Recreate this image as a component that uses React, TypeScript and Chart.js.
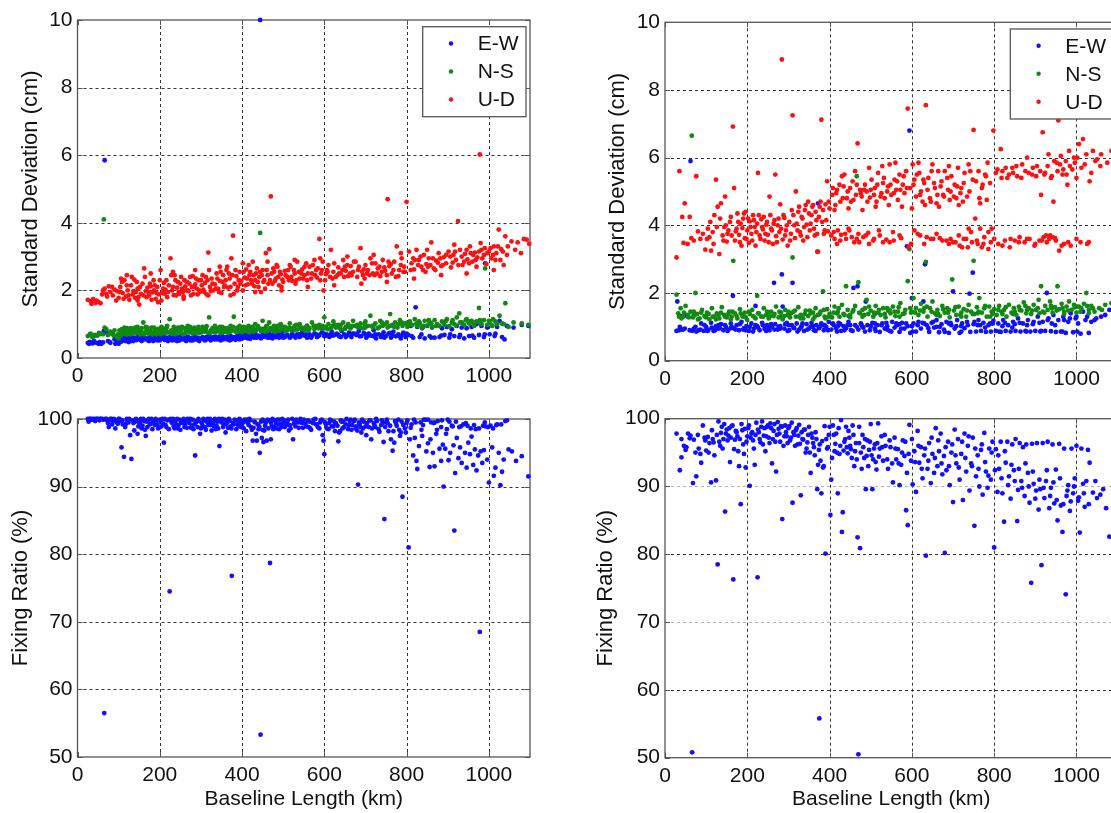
import React, { useEffect, useRef } from 'react';
import { Chart, registerables } from 'chart.js';
Chart.register(...registerables);

const X_TICKS = [0, 200, 400, 600, 800, 1000];
const SD_TICKS = [0, 2, 4, 6, 8, 10];
const FIX_TICKS = [50, 60, 70, 80, 90, 100];
const SERIES_NAMES = ['E-W', 'N-S', 'U-D'];
const SERIES_COLORS = ['#1010ff', '#108a10', '#ff1010'];
const FIX_COLOR = '#1010ff';

// flat lists: km, value, km, value, ...
const SD_LEFT_EW = [25,0.45, 30,0.48, 36,0.43, 42,0.46, 48,0.44, 54,0.47, 58,0.42, 64,0.8, 66,5.85, 70,0.75, 74,0.5, 80,0.45, 86,0.72, 90,0.55, 96,0.48, 100,0.42, 104,0.6, 108,0.52, 112,0.65, 116,0.5, 120,0.58, 124,0.47, 128,0.62, 132,0.55, 136,0.5, 140,0.6, 144,0.53, 148,0.65, 152,0.56, 156,0.5, 160,0.62, 164,0.55, 168,0.58, 172,0.52, 176,0.64, 180,0.57, 184,0.5, 188,0.6, 192,0.55, 196,0.63, 200,0.52, 204,0.58, 208,0.66, 212,0.54, 216,0.6, 220,0.5, 224,0.62, 228,0.56, 232,0.6, 236,0.53, 240,0.65, 244,0.57, 248,0.52, 252,0.61, 256,0.55, 260,0.6, 264,0.5, 268,0.63, 272,0.56, 276,0.59, 280,0.52, 284,0.64, 288,0.55, 292,0.6, 296,0.5, 300,0.58, 304,0.62, 308,0.54, 312,0.6, 316,0.56, 320,0.66, 324,0.52, 328,0.6, 332,0.57, 336,0.63, 340,0.55, 344,0.6, 348,0.52, 352,0.65, 356,0.58, 360,0.62, 364,0.55, 368,0.6, 372,0.66, 376,0.57, 380,0.62, 384,0.54, 388,0.65, 392,0.6, 396,0.68, 400,0.58, 404,0.63, 408,0.7, 412,0.6, 416,0.65, 420,0.57, 424,0.68, 428,0.62, 432,0.72, 436,0.6, 440,0.66, 444,10.0, 446,0.58, 450,0.7, 454,0.63, 458,0.67, 462,0.6, 466,0.72, 470,0.64, 474,0.58, 478,0.68, 482,0.62, 486,0.7, 490,0.6, 494,0.66, 498,0.74, 504,0.62, 510,0.68, 516,0.6, 522,0.72, 528,0.65, 534,0.7, 540,0.62, 546,0.75, 552,0.66, 558,0.6, 564,0.7, 570,0.65, 576,0.73, 582,0.62, 588,0.68, 594,0.76, 600,0.64, 606,0.7, 612,0.62, 618,0.78, 624,0.68, 630,0.72, 636,0.64, 642,0.8, 648,0.7, 654,0.66, 660,0.75, 666,0.62, 672,0.72, 678,0.68, 684,0.8, 690,0.65, 696,0.74, 702,0.6, 708,0.72, 714,0.66, 720,0.82, 726,0.58, 732,0.7, 738,0.62, 744,0.76, 750,0.65, 756,0.72, 762,0.6, 768,0.78, 774,0.64, 780,0.7, 786,0.58, 792,0.75, 798,0.62, 804,0.68, 810,0.95, 816,0.6, 822,1.5, 826,0.92, 832,0.62, 838,0.88, 844,0.58, 850,0.95, 856,0.65, 862,0.9, 868,0.6, 874,0.98, 880,0.62, 886,0.88, 892,0.68, 898,0.92, 904,0.6, 910,0.85, 916,0.65, 922,0.95, 928,0.62, 934,0.9, 940,0.58, 946,0.88, 952,0.65, 958,0.92, 964,0.6, 970,1.0, 976,0.68, 982,0.95, 988,0.62, 991,2.8, 996,0.9, 1002,0.7, 1008,0.96, 1014,0.65, 1020,0.92, 1026,1.1, 1032,0.62, 1038,0.55, 1044,0.95, 1060,0.9, 1080,0.98, 1096,0.95,
  110,0.62, 130,0.5, 150,0.6, 170,0.55, 190,0.62, 210,0.56, 230,0.52, 250,0.64, 270,0.6, 290,0.56, 310,0.52, 330,0.62, 350,0.6, 370,0.52, 390,0.57, 410,0.66, 430,0.6, 452,0.64, 476,0.7, 500,0.6, 520,0.66, 540,0.7, 560,0.62, 580,0.7, 600,0.72, 620,0.66, 640,0.62, 660,0.68, 680,0.72, 700,0.7, 720,0.64, 740,0.68, 760,0.74, 780,0.66, 800,0.72,
  28,0.42, 40,0.5, 52,0.42, 62,0.46, 78,0.48, 92,0.42, 102,0.55, 106,0.48, 114,0.55, 122,0.52, 134,0.6, 142,0.56, 154,0.53, 162,0.58, 174,0.5, 186,0.57, 194,0.52, 202,0.6, 214,0.58, 222,0.55, 234,0.6, 242,0.5, 254,0.58, 262,0.55, 274,0.52, 286,0.6, 294,0.54, 306,0.57, 314,0.62, 326,0.58, 334,0.55, 346,0.64, 354,0.55, 366,0.62, 374,0.55, 386,0.6, 394,0.55, 406,0.6, 414,0.58, 426,0.65, 434,0.62, 448,0.62, 456,0.68, 468,0.6, 480,0.64, 492,0.7, 506,0.65, 518,0.62, 530,0.6, 544,0.66, 556,0.7, 568,0.6, 586,0.65, 604,0.66, 616,0.7, 634,0.68, 652,0.62, 668,0.72, 686,0.64, 706,0.66, 724,0.7, 746,0.6, 766,0.66, 790,0.68, 812,0.65, 836,0.7, 860,0.6, 884,0.66, 906,0.7, 930,0.68, 960,0.66, 990,0.7, 1016,0.72];

const SD_LEFT_NS = [25,0.65, 30,0.7, 36,0.62, 42,0.68, 48,0.66, 54,0.7, 58,0.72, 64,4.1, 66,0.9, 70,0.85, 74,0.68, 80,0.78, 86,0.7, 90,0.82, 96,0.62, 100,0.58, 104,0.75, 108,0.85, 112,0.72, 116,0.8, 120,0.88, 124,0.75, 128,0.7, 132,0.82, 136,0.78, 140,0.9, 144,0.74, 148,0.82, 152,0.7, 156,0.88, 160,1.05, 164,0.76, 168,0.84, 172,0.72, 176,0.8, 180,0.9, 184,0.75, 188,0.82, 192,0.7, 196,0.86, 200,0.78, 204,0.92, 208,0.74, 212,0.8, 216,0.88, 220,0.76, 224,1.15, 228,0.82, 232,0.72, 236,0.85, 240,0.78, 244,0.9, 248,0.75, 252,0.83, 256,0.7, 260,0.88, 264,0.8, 268,0.95, 272,0.76, 276,0.84, 280,0.72, 284,0.9, 288,0.8, 292,0.86, 296,0.74, 300,0.82, 304,0.92, 308,0.78, 312,0.85, 316,0.75, 320,1.2, 324,0.82, 328,0.88, 332,0.76, 336,0.9, 340,0.8, 344,0.85, 348,0.74, 352,0.92, 356,0.82, 360,0.78, 364,0.88, 368,0.8, 372,0.95, 376,0.84, 380,1.22, 384,0.78, 388,0.9, 392,0.82, 396,0.86, 400,0.76, 404,0.92, 408,0.84, 412,0.8, 416,0.95, 420,0.82, 424,0.88, 428,0.78, 432,1.0, 436,0.85, 440,0.9, 444,3.7, 446,0.8, 450,1.1, 454,0.86, 458,0.92, 462,0.8, 466,1.05, 470,0.88, 474,0.82, 478,0.95, 482,0.86, 486,0.9, 490,0.8, 494,1.0, 498,0.85, 504,0.92, 510,0.82, 516,1.02, 522,0.88, 528,0.95, 534,0.84, 540,1.0, 546,0.9, 552,0.82, 558,0.96, 564,0.88, 570,1.05, 576,0.85, 582,0.92, 588,0.98, 594,0.86, 600,1.2, 604,0.92, 610,1.0, 616,0.88, 622,1.08, 628,0.9, 634,0.98, 640,0.85, 646,1.05, 652,0.92, 658,1.0, 664,0.88, 670,1.1, 676,0.95, 682,0.9, 688,1.02, 694,0.88, 700,1.08, 706,0.95, 712,1.25, 718,0.9, 724,1.02, 730,0.88, 736,1.1, 742,0.95, 748,1.0, 754,0.9, 760,1.3, 766,0.98, 772,1.05, 778,0.9, 784,1.12, 790,0.95, 796,1.02, 802,0.92, 808,1.08, 814,0.98, 820,1.15, 826,0.94, 832,1.02, 838,0.9, 844,1.1, 850,0.96, 856,1.05, 862,0.92, 868,1.12, 874,1.0, 880,0.95, 886,1.08, 892,0.98, 898,1.15, 904,0.94, 910,1.05, 916,1.0, 922,1.2, 928,1.32, 934,1.05, 940,0.98, 946,1.15, 952,1.02, 958,1.1, 964,0.95, 970,1.08, 976,1.48, 982,1.0, 988,1.12, 991,2.65, 996,0.98, 1002,1.05, 1008,0.95, 1014,1.1, 1020,1.0, 1026,1.25, 1032,1.02, 1040,1.62, 1048,0.92, 1060,1.05, 1080,1.02, 1096,0.98,
  110,0.78, 130,0.88, 150,0.76, 170,0.9, 190,0.78, 210,0.86, 230,0.78, 250,0.9, 270,0.82, 290,0.76, 310,0.88, 330,0.84, 350,0.8, 370,0.86, 390,0.78, 410,0.9, 430,0.84, 452,0.8, 476,0.9, 500,0.92, 520,0.82, 540,0.9, 560,0.86, 580,0.95, 600,0.88, 620,0.95, 640,0.98, 660,0.92, 680,0.98, 700,0.9, 720,0.96, 740,1.05, 760,0.95, 780,1.0, 800,1.04, 830,1.08, 860,1.02, 890,1.05, 920,0.96, 950,1.08, 980,1.05, 1010,1.15,
  32,0.72, 40,0.64, 52,0.74, 62,0.7, 78,0.72, 88,0.66, 98,0.7, 102,0.82, 106,0.68, 114,0.9, 118,0.7, 126,0.85, 134,0.72, 138,0.86, 146,0.92, 154,0.8, 162,0.7, 166,0.92, 174,0.78, 182,0.7, 186,0.9, 194,0.82, 202,0.7, 206,0.86, 214,0.74, 218,0.95, 226,0.74, 234,0.92, 238,0.7, 246,0.82, 254,0.92, 262,0.74, 266,0.86, 274,0.92, 282,0.8, 286,0.74, 294,0.92, 302,0.76, 306,0.86, 314,0.94, 322,0.74, 326,0.8, 334,0.95, 338,0.78, 346,0.92, 354,0.76, 358,0.88, 366,0.74, 374,0.8, 378,0.92, 386,0.8, 394,0.95, 398,0.88, 406,0.8, 414,0.86, 418,0.76, 426,0.92, 434,0.82, 438,0.95, 448,0.86, 456,0.78, 460,0.95, 468,0.84, 480,0.78, 488,0.96, 496,0.9, 506,0.8, 514,0.9, 526,0.82, 532,0.98, 544,0.85, 556,0.92, 562,0.82, 574,0.95, 586,0.88, 596,0.95, 608,0.85, 626,0.98, 636,0.9, 650,0.86, 668,0.95, 686,0.92, 698,1.0, 716,0.95, 734,0.92, 752,1.05, 770,0.92, 788,1.05, 806,0.98, 824,1.02, 840,0.95, 854,1.12, 872,0.95, 896,1.1, 912,1.12, 930,1.05, 944,1.12, 962,1.05, 978,1.12, 1000,1.1, 1018,1.05, 1036,1.0];

const SD_LEFT_UD = [25,1.72, 32,1.68, 38,1.74, 44,1.63, 50,1.66, 56,1.62, 60,1.88, 66,2.05, 70,1.9, 76,2.12, 80,1.95, 86,1.85, 90,2.02, 96,1.98, 100,1.78, 104,2.1, 110,1.92, 114,2.3, 118,1.82, 122,2.0, 126,1.72, 130,2.15, 134,1.88, 138,2.32, 142,1.95, 146,2.05, 150,1.58, 154,1.9, 158,2.2, 162,2.65, 166,1.98, 170,2.08, 174,1.85, 178,2.12, 182,1.94, 186,2.0, 190,1.75, 194,2.1, 198,1.88, 202,2.6, 206,1.92, 210,2.22, 214,2.02, 218,1.8, 222,2.15, 226,2.95, 230,2.0, 234,1.86, 238,2.3, 242,2.08, 246,1.95, 250,2.2, 254,2.05, 258,1.82, 262,2.12, 266,2.25, 270,1.98, 274,2.4, 278,2.1, 282,1.9, 286,2.18, 290,2.05, 294,2.3, 298,1.96, 302,2.15, 306,2.02, 310,2.22, 314,1.88, 318,3.12, 322,2.1, 326,2.35, 330,2.0, 334,2.18, 338,2.5, 342,2.05, 346,2.28, 350,1.92, 354,2.45, 358,2.15, 362,2.6, 366,2.08, 370,2.35, 374,2.95, 378,3.62, 382,2.2, 386,2.42, 390,2.1, 394,2.55, 398,2.28, 402,2.0, 406,2.38, 410,2.62, 414,2.18, 418,2.45, 422,2.3, 426,2.85, 430,2.12, 434,2.5, 438,2.25, 442,2.4, 446,1.95, 450,2.6, 454,2.3, 458,3.1, 462,2.45, 466,3.22, 470,4.78, 474,2.2, 478,2.55, 482,2.35, 486,2.7, 490,2.15, 494,2.48, 498,2.32, 504,2.58, 510,2.4, 516,2.75, 522,2.28, 528,2.5, 534,2.85, 540,2.35, 546,2.62, 552,2.45, 558,2.3, 564,2.7, 570,2.5, 576,2.9, 582,2.38, 588,3.52, 594,2.6, 598,2.0, 604,2.48, 610,2.75, 616,3.2, 622,2.55, 628,2.4, 634,2.68, 640,2.5, 646,2.9, 652,2.58, 658,2.42, 664,2.72, 670,2.55, 676,2.85, 682,2.6, 688,3.25, 694,2.45, 700,2.75, 706,2.6, 712,2.95, 718,2.5, 724,2.8, 730,2.65, 736,2.42, 742,2.9, 748,2.58, 754,4.7, 758,2.72, 764,2.5, 770,2.85, 776,3.3, 782,2.6, 788,2.95, 794,2.7, 800,4.62, 806,3.15, 812,2.8, 818,2.62, 824,3.2, 830,2.9, 836,2.7, 842,3.05, 848,2.78, 854,2.95, 860,3.42, 866,2.65, 872,2.88, 878,3.1, 884,2.72, 890,2.98, 896,2.8, 902,3.15, 908,2.68, 914,3.05, 920,2.9, 925,4.05, 930,3.2, 936,2.75, 942,3.08, 948,2.92, 954,3.3, 960,2.85, 966,3.12, 972,2.98, 978,6.02, 982,3.2, 988,3.05, 994,2.78, 1000,3.15, 1006,2.95, 1012,3.3, 1018,3.1, 1024,3.8, 1030,3.22, 1036,2.75, 1040,3.6, 1046,3.3, 1055,3.45, 1070,3.42, 1085,3.52, 1098,3.38,
  108,2.25, 140,1.78, 168,1.8, 185,2.3, 196,1.65, 212,1.9, 236,2.45, 248,1.9, 268,2.0, 288,2.35, 296,2.0, 312,2.4, 336,2.05, 352,2.25, 368,2.5, 388,2.0, 396,2.2, 408,2.15, 420,2.55, 432,2.3, 448,2.45, 456,2.05, 468,2.3, 476,2.65, 488,2.4, 500,2.25, 512,2.6, 520,2.4, 532,2.3, 544,2.5, 556,2.8, 568,2.35, 580,2.6, 590,2.3, 606,2.6, 620,2.35, 636,2.5, 650,2.7, 662,2.5, 680,2.4, 696,2.62, 710,2.45, 728,2.5, 746,2.68, 762,2.78, 780,2.42, 796,2.55, 820,2.9, 840,2.6, 858,2.75, 876,2.82, 896,3.05, 912,2.82, 934,3.0, 956,3.1, 970,2.7, 990,3.25, 1010,3.05, 1028,2.9,
  34,1.6, 46,1.7, 62,2.0, 72,1.82, 84,2.1, 94,1.7, 102,1.95, 106,2.35, 112,1.75, 120,2.15, 124,1.85, 132,2.4, 136,1.98, 144,2.25, 148,1.8, 152,2.1, 160,1.85, 164,2.4, 172,1.95, 176,2.2, 180,1.72, 188,2.15, 192,1.92, 200,2.3, 208,2.05, 216,2.3, 220,1.95, 228,2.45, 232,2.1, 240,1.85, 244,2.25, 252,2.4, 256,1.95, 260,2.3, 264,2.0, 272,2.2, 276,1.85, 280,2.42, 284,2.1, 292,1.88, 300,2.3, 304,2.45, 308,1.95, 316,2.3, 320,2.6, 324,1.98, 328,2.2, 340,2.35, 344,1.95, 348,2.55, 356,2.1, 360,2.3, 364,2.7, 372,2.1, 376,2.45, 380,1.9, 384,2.6, 392,2.3, 404,2.55, 412,2.35, 416,2.75, 424,2.2, 428,2.45, 436,2.65, 440,2.1, 444,2.55, 452,2.25, 460,2.6, 464,2.2, 472,2.5, 480,2.28, 484,2.75, 492,2.55, 496,2.1, 506,2.45, 514,2.3, 518,2.7, 526,2.6, 530,2.2, 538,2.55, 548,2.35, 552,2.7, 560,2.5, 572,2.75, 578,2.45, 584,2.65, 592,2.5, 596,2.85, 602,2.3, 608,2.55, 614,2.4, 624,2.8, 632,2.45, 644,2.6, 648,2.4, 656,2.75, 666,2.45, 672,2.85, 684,2.7, 692,2.55, 698,2.35, 704,2.5, 716,2.8, 722,2.45, 734,2.7, 740,2.55, 752,2.45, 756,2.85, 768,2.6, 774,2.4, 786,2.75, 792,2.55, 810,2.6, 816,2.95, 828,2.75, 834,3.0, 846,2.55, 852,2.7, 864,2.95, 870,2.6, 882,2.95, 888,2.75, 906,3.0, 918,3.15, 926,2.75, 940,2.85, 946,3.2, 952,2.8, 962,3.05, 968,2.9, 976,3.15, 984,2.95, 996,3.1, 1004,3.25, 1016,2.9, 1022,3.3, 1034,3.15, 1044,3.05, 1064,3.2, 1078,3.1, 1092,3.5,
  120,2.45, 146,1.7, 178,2.5, 204,1.7, 232,2.55, 258,1.75, 286,2.6, 318,1.85, 346,2.7, 372,1.85, 402,2.8, 432,1.95, 462,2.85, 496,2.0, 528,2.9, 560,2.1, 590,2.95, 624,2.15, 656,3.0, 690,2.2, 720,3.05, 752,2.25, 786,3.1, 818,2.35, 850,3.2, 884,2.45, 916,3.35, 946,2.5, 980,3.4, 1012,2.6];

const SD_RIGHT_EW = [28,0.88, 30,1.75, 34,0.9, 38,1.32, 44,0.92, 50,1.35, 56,1.3, 62,5.9, 66,0.88, 70,1.35, 76,0.86, 82,0.9, 88,1.1, 94,0.88, 100,1.0, 106,0.92, 112,1.12, 118,0.88, 124,1.02, 130,0.95, 136,1.08, 142,0.9, 148,1.0, 154,0.92, 160,1.1, 165,1.92, 168,0.95, 174,1.05, 180,0.9, 186,1.15, 192,0.96, 198,1.02, 204,0.88, 210,1.1, 216,0.95, 220,1.62, 224,1.02, 230,0.9, 236,1.12, 242,0.94, 248,1.05, 254,0.9, 260,1.0, 265,2.3, 268,1.08, 274,0.92, 280,1.02, 284,2.55, 286,1.6, 290,0.95, 296,1.12, 302,0.9, 308,1.05, 310,2.3, 314,0.96, 320,1.1, 326,0.92, 332,1.02, 338,0.88, 344,1.08, 350,0.95, 356,1.12, 362,0.9, 368,1.05, 372,4.65, 374,0.96, 380,1.1, 386,0.9, 392,1.0, 398,1.15, 404,0.92, 410,1.05, 416,0.95, 422,1.12, 428,0.88, 434,1.02, 440,0.96, 446,1.15, 452,0.9, 458,2.15, 462,1.05, 468,2.2, 470,0.92, 476,1.1, 482,0.98, 488,1.75, 492,1.05, 498,0.9, 504,1.12, 510,0.95, 516,1.05, 522,0.85, 528,1.1, 534,0.95, 540,1.02, 546,0.88, 552,1.15, 558,0.98, 564,1.05, 570,0.85, 576,1.12, 582,0.95, 588,3.38, 590,1.02, 594,6.8, 596,0.82, 600,1.85, 604,1.1, 610,0.86, 616,1.15, 622,0.95, 628,1.75, 632,2.85, 636,1.05, 642,0.85, 648,1.12, 654,0.98, 660,1.2, 666,0.84, 672,1.08, 678,0.92, 684,1.15, 690,0.82, 696,1.05, 700,2.05, 704,0.95, 710,1.2, 716,0.82, 722,1.1, 728,0.96, 734,1.15, 740,1.98, 742,0.85, 748,2.6, 750,1.08, 756,0.86, 762,1.2, 768,0.88, 774,1.12, 780,0.85, 786,1.05, 792,0.86, 798,1.18, 804,0.88, 810,1.1, 816,0.85, 822,1.2, 828,0.88, 834,1.05, 840,0.86, 846,1.15, 852,0.88, 858,1.25, 864,0.86, 870,1.1, 876,0.88, 882,1.2, 888,0.86, 894,1.08, 900,0.88, 906,1.3, 912,0.86, 918,1.15, 924,0.88, 928,2.0, 932,1.25, 938,0.87, 944,1.35, 950,0.85, 956,1.2, 962,0.86, 968,1.3, 974,0.82, 980,1.15, 986,1.4, 992,0.84, 998,1.25, 1004,1.1, 1010,0.8, 1016,1.45, 1022,1.2, 1030,0.82, 1036,1.15, 1048,1.25, 1060,1.3, 1080,1.5,
  40,0.92, 70,0.95, 100,0.9, 130,1.05, 160,0.96, 190,0.92, 220,1.05, 250,0.98, 280,0.95, 300,1.05, 330,0.98, 360,1.02, 390,0.95, 420,1.02, 450,1.05, 480,1.0, 510,1.1, 540,0.92, 570,1.08, 600,1.02, 630,1.1, 660,1.0, 690,1.1, 720,1.02, 760,1.05, 790,1.1, 820,1.02, 850,1.08, 880,1.05, 910,1.12, 940,1.1, 970,1.2, 1000,1.3,
  36,1.0, 48,0.95, 60,0.9, 74,1.0, 86,0.92, 96,1.05, 104,0.88, 114,0.98, 122,0.9, 134,0.96, 146,1.05, 152,0.88, 162,1.0, 172,0.92, 182,1.08, 196,0.9, 206,1.0, 214,0.86, 226,0.98, 238,1.05, 246,0.88, 258,1.08, 266,0.92, 276,1.0, 292,1.08, 298,0.88, 312,0.98, 322,0.86, 334,1.1, 346,0.92, 354,1.0, 366,0.88, 378,1.02, 388,1.05, 396,0.9, 408,1.1, 418,0.86, 426,1.08, 436,0.9, 444,1.05, 456,0.88, 466,1.0, 478,1.05, 486,0.86, 500,1.02, 512,0.88, 526,1.05, 538,1.12, 550,0.86, 562,1.1, 574,0.95, 586,1.1, 602,0.86, 614,1.05, 626,1.12, 640,0.96, 652,1.15, 668,1.0, 680,0.85, 694,1.12, 708,1.02, 720,0.86, 736,1.05, 752,1.15, 766,1.05, 778,0.98, 796,1.1, 812,0.86, 826,1.12, 844,0.98, 862,1.12, 878,0.86, 896,1.15, 914,0.88, 930,1.2, 948,1.05, 966,0.86, 984,1.25, 1002,0.86, 1026,1.3, 1044,1.2, 1070,1.35];

const SD_RIGHT_NS = [28,1.95, 32,1.4, 38,1.55, 44,1.3, 50,1.62, 56,1.35, 62,1.45, 65,6.65, 68,1.28, 74,2.0, 78,1.38, 84,1.25, 90,1.5, 96,1.32, 102,1.42, 108,1.22, 114,1.55, 120,1.3, 126,1.4, 132,1.25, 138,1.58, 144,1.35, 150,1.28, 156,1.45, 162,1.3, 166,2.95, 170,1.4, 176,1.25, 182,1.52, 188,1.32, 194,1.42, 200,1.2, 206,1.38, 212,1.5, 218,1.28, 224,1.92, 228,1.4, 234,1.3, 240,1.55, 246,1.35, 252,1.25, 258,1.45, 264,1.32, 270,1.6, 276,1.28, 282,1.42, 286,1.22, 292,1.5, 298,1.35, 304,1.28, 310,3.05, 312,1.45, 318,1.3, 324,1.58, 330,1.35, 336,1.25, 342,1.48, 348,1.32, 354,1.4, 360,1.22, 366,1.55, 370,3.22, 372,1.35, 378,1.45, 384,2.05, 388,1.3, 394,1.52, 400,1.38, 406,1.28, 412,1.6, 418,1.4, 424,1.3, 430,1.65, 436,1.35, 440,2.2, 444,1.5, 450,1.28, 456,1.45, 462,1.62, 466,5.45, 470,2.32, 474,1.4, 480,1.3, 486,1.55, 490,1.8, 494,1.38, 500,1.48, 506,1.3, 512,1.62, 518,1.42, 524,1.35, 530,1.55, 536,1.28, 542,1.48, 548,1.4, 554,1.6, 560,1.32, 566,1.45, 572,1.7, 578,1.38, 584,1.5, 590,2.35, 594,3.3, 598,1.42, 604,1.85, 610,1.55, 616,1.35, 622,1.68, 628,1.45, 634,2.92, 638,1.3, 644,1.55, 650,1.75, 656,1.4, 662,1.5, 668,1.32, 674,1.62, 680,1.42, 686,1.55, 692,1.28, 698,2.4, 702,1.48, 708,1.35, 714,1.6, 720,1.42, 726,1.52, 732,1.3, 738,1.65, 744,1.45, 750,2.95, 752,1.38, 758,1.58, 764,1.85, 770,1.42, 776,1.55, 782,1.3, 788,1.6, 794,1.45, 800,1.52, 806,1.35, 812,1.62, 818,1.45, 824,1.5, 830,1.3, 836,1.65, 842,1.42, 848,1.55, 854,1.35, 860,1.6, 866,1.48, 872,1.72, 878,1.4, 884,1.55, 890,1.38, 896,1.65, 902,1.5, 908,1.8, 914,2.2, 918,1.45, 924,1.62, 930,1.5, 936,1.75, 942,1.42, 948,1.58, 954,2.2, 958,1.52, 964,1.68, 970,1.45, 976,1.6, 982,1.75, 988,1.5, 994,1.65, 1000,1.42, 1006,1.6, 1012,1.55, 1018,1.68, 1024,2.0, 1030,1.5, 1036,1.62, 1044,1.45, 1055,1.55, 1070,1.65, 1085,1.7,
  40,1.25, 70,1.45, 100,1.28, 130,1.35, 160,1.22, 190,1.3, 220,1.25, 250,1.38, 280,1.3, 300,1.45, 330,1.25, 360,1.42, 390,1.25, 420,1.45, 450,1.35, 480,1.5, 510,1.38, 540,1.55, 570,1.3, 600,1.45, 630,1.55, 660,1.35, 690,1.5, 720,1.3, 760,1.4, 790,1.3, 820,1.38, 850,1.45, 880,1.5, 910,1.4, 940,1.55, 970,1.38, 1000,1.6, 1030,1.4,
  34,1.3, 46,1.42, 58,1.28, 72,1.35, 80,1.22, 88,1.42, 98,1.3, 106,1.38, 116,1.3, 124,1.22, 136,1.42, 146,1.3, 154,1.38, 164,1.45, 174,1.32, 184,1.4, 196,1.28, 204,1.45, 214,1.32, 226,1.4, 238,1.3, 248,1.45, 256,1.32, 266,1.38, 278,1.45, 290,1.32, 306,1.4, 316,1.48, 326,1.3, 340,1.38, 352,1.48, 364,1.3, 376,1.38, 386,1.5, 398,1.3, 410,1.42, 422,1.55, 434,1.38, 446,1.32, 458,1.5, 472,1.42, 484,1.35, 496,1.6, 508,1.42, 520,1.5, 534,1.38, 546,1.5, 558,1.45, 568,1.58, 582,1.4, 596,1.55, 608,1.42, 620,1.48, 636,1.6, 648,1.45, 664,1.38, 676,1.52, 688,1.42, 706,1.58, 718,1.35, 734,1.48, 748,1.38, 762,1.45, 778,1.62, 796,1.38, 810,1.5, 828,1.58, 846,1.38, 862,1.5, 876,1.62, 892,1.48, 906,1.55, 922,1.42, 938,1.62, 952,1.48, 966,1.55, 980,1.48, 996,1.58, 1010,1.45, 1026,1.62, 1040,1.55, 1062,1.5];

const SD_RIGHT_UD = [28,3.05, 35,5.6, 42,4.25, 45,3.48, 48,4.65, 55,3.45, 60,4.25, 64,3.62, 70,3.55, 76,5.45, 80,3.82, 86,3.6, 92,3.75, 98,3.28, 104,3.9, 108,3.65, 112,3.25, 116,3.8, 120,4.3, 124,5.35, 128,4.55, 132,3.15, 136,4.65, 140,3.7, 144,3.95, 146,4.85, 150,3.52, 154,3.85, 158,4.1, 162,3.7, 165,6.92, 168,5.1, 170,3.55, 174,3.9, 176,4.35, 180,3.72, 184,4.05, 186,3.4, 190,4.2, 194,3.62, 196,4.4, 200,3.85, 204,3.48, 206,4.12, 210,3.75, 214,4.3, 218,3.95, 220,3.4, 224,4.05, 226,5.55, 230,3.7, 234,4.18, 238,3.88, 242,3.55, 246,4.02, 250,3.72, 254,4.85, 258,3.9, 262,3.45, 266,4.15, 268,5.5, 270,3.68, 274,4.0, 278,3.8, 280,4.62, 284,8.9, 286,3.58, 290,4.22, 294,3.85, 298,3.4, 302,4.1, 306,3.75, 310,7.25, 312,4.3, 316,3.62, 318,5.0, 320,4.05, 324,4.4, 328,3.8, 332,4.25, 336,3.55, 340,4.45, 344,4.02, 348,4.7, 352,3.85, 356,4.3, 360,4.6, 364,3.7, 368,4.15, 372,3.22, 376,4.55, 380,7.12, 382,4.1, 386,3.75, 390,4.62, 394,5.3, 396,3.82, 400,4.5, 404,3.7, 408,5.1, 412,3.6, 416,4.95, 420,3.85, 424,5.2, 428,3.72, 432,4.8, 436,5.5, 440,3.6, 444,5.0, 448,3.85, 452,4.7, 456,5.3, 460,3.5, 464,4.9, 468,6.42, 470,3.75, 474,5.05, 478,4.85, 482,3.65, 486,5.2, 490,5.0, 494,3.78, 498,4.82, 502,5.35, 506,3.55, 510,5.1, 514,4.7, 518,5.55, 522,3.7, 526,4.95, 530,5.25, 534,4.8, 538,3.58, 542,5.15, 546,5.8, 550,4.9, 554,3.8, 558,5.35, 562,5.05, 566,4.75, 570,5.5, 574,3.62, 578,5.2, 582,4.95, 586,5.6, 590,7.45, 592,3.35, 596,5.1, 598,3.45, 602,5.8, 606,5.35, 610,4.85, 614,3.75, 618,5.55, 622,5.0, 626,4.7, 630,5.25, 634,7.55, 636,3.65, 640,5.4, 644,4.8, 648,5.6, 652,3.6, 656,5.1, 660,4.65, 664,5.6, 668,3.62, 672,5.3, 676,4.9, 680,5.6, 684,3.55, 688,5.05, 692,4.75, 696,5.45, 700,3.5, 704,5.2, 708,4.8, 712,5.7, 716,3.4, 720,5.1, 724,4.7, 728,5.55, 732,3.6, 736,3.35, 740,5.0, 744,3.8, 748,5.35, 750,6.82, 754,4.2, 758,3.55, 762,5.6, 766,3.9, 770,5.1, 774,3.45, 778,5.5, 782,4.75, 786,3.3, 790,5.25, 794,3.9, 798,6.8, 800,3.6, 804,5.55, 810,3.45, 816,6.25, 820,5.6, 826,3.55, 832,5.4, 838,3.35, 844,5.7, 850,3.55, 856,5.45, 862,3.65, 868,5.8, 874,3.5, 880,6.0, 886,3.6, 892,5.5, 898,3.4, 904,5.75, 910,3.55, 914,4.9, 918,6.75, 920,3.65, 924,5.55, 928,3.5, 932,6.1, 936,3.7, 940,5.45, 944,4.7, 948,3.62, 952,5.85, 956,7.1, 958,3.25, 962,6.05, 966,5.5, 970,3.45, 974,5.9, 978,5.2, 982,6.2, 986,3.4, 990,5.65, 994,6.0, 1000,5.4, 1006,6.4, 1010,3.5, 1016,6.55, 1020,5.8, 1026,3.45, 1032,5.3, 1040,6.2, 1050,5.95, 1060,6.1, 1075,5.85, 1085,6.2,
  102,3.6, 110,4.1, 118,3.45, 126,3.95, 134,4.2, 142,3.55, 148,4.0, 152,3.75, 160,4.25, 172,3.82, 178,4.1, 182,3.5, 188,3.92, 192,4.35, 198,3.6, 202,4.2, 208,3.95, 212,3.55, 216,4.15, 222,3.8, 228,4.3, 232,3.6, 236,3.95, 240,4.25, 244,3.75, 248,4.1, 252,3.5, 256,4.3, 260,3.85, 264,4.05, 272,3.5, 276,4.2, 282,3.9, 288,4.3, 292,3.7, 296,4.0, 304,3.55, 308,4.45, 314,4.0, 322,3.85, 326,4.55, 330,3.7, 334,4.2, 338,3.95, 342,4.6, 346,3.65, 350,4.35, 354,4.05, 358,4.55, 362,3.9, 366,4.4, 370,3.75, 374,4.25, 378,4.7, 384,4.45, 388,3.85, 392,4.15, 398,4.7,
  406,4.9, 414,4.6, 418,5.05, 426,4.7, 434,5.15, 442,4.8, 450,5.1, 458,4.75, 466,5.2, 476,4.95, 484,5.05, 492,4.7, 500,5.05, 508,4.9, 516,5.2, 524,4.85, 532,5.4, 540,5.0, 548,5.2, 556,4.95, 564,5.3, 572,5.05, 580,5.45, 588,5.1, 410,3.8, 426,3.55, 438,3.75, 454,3.65, 472,3.5, 488,3.7, 508,3.6, 530,3.5, 556,3.55,
  604,5.2, 612,5.5, 620,4.9, 628,5.35, 638,5.05, 646,4.7, 654,5.25, 662,4.9, 670,5.15, 678,4.85, 686,5.4, 694,5.0, 702,4.85, 710,5.15, 718,4.95, 726,5.25, 734,4.85, 742,5.6, 756,5.3, 764,4.8, 772,5.2, 780,5.45, 620,3.7, 646,3.6, 674,3.55, 694,3.6, 706,3.5, 722,3.35, 726,3.6, 746,3.5, 760,3.45, 776,3.65, 792,3.5,
  808,5.65, 818,5.4, 828,5.7, 836,5.5, 846,5.55, 854,5.75, 866,5.4, 876,5.6, 884,5.55, 894,5.7, 902,5.45, 912,5.6, 922,5.5, 930,5.75, 938,5.4, 946,5.9, 954,5.6, 960,5.8, 968,5.65, 976,5.5, 984,5.75, 996,5.85, 1002,6.0, 1012,5.7, 1024,6.1, 1036,5.55, 1046,5.9, 1058,5.75, 820,3.4, 840,3.6, 860,3.5, 880,3.6, 900,3.45, 916,3.55, 926,3.7, 934,3.6, 942,3.65, 950,3.55, 964,3.4, 980,3.5, 1000,3.6, 1030,3.5,
  412,4.45, 430,5.45, 446,4.5, 462,5.6, 480,4.45, 496,5.7, 512,4.55, 528,5.75, 544,4.6, 560,5.85, 576,4.55, 600,4.5, 616,5.85, 632,4.6, 650,5.8, 666,4.55, 690,5.75, 714,4.6, 738,5.8, 766,4.65, 784,5.85, 418,3.45, 446,3.9, 466,3.6, 496,3.45, 520,3.85, 546,3.5, 570,3.7, 606,3.85, 630,3.45, 660,3.75, 690,3.45, 714,3.7, 738,3.9, 770,3.35, 786,3.8];

const FIX_LEFT = [25,100, 30,100, 35,100, 40,100, 45,100, 50,100, 55,100, 60,100, 65,56.5, 68,100, 72,99.8, 76,98.8, 80,100, 84,99.2, 88,100, 92,98.6, 96,99.5, 100,100, 104,99.7, 107,95.8, 110,99.2, 113,94.4, 116,98.8, 120,100, 124,99.5, 128,97.6, 131,94.1, 134,99.8, 138,98.3, 142,100, 146,97.8, 150,99.4, 154,100, 158,99, 162,99.7, 166,97.5, 170,98.8, 174,100, 178,99.3, 182,98.5, 186,99.8, 190,100, 194,99.2, 198,98.7, 202,99.6, 206,100, 210,96.5, 214,99.1, 218,99.8, 222,98.5, 224,74.5, 226,100, 230,99.4, 234,98.9, 238,99.7, 242,100, 246,99.1, 250,98.4, 254,99.8, 258,100, 262,99.3, 266,98.7, 270,99.6, 274,100, 278,99.0, 282,98.5, 286,94.6, 290,99.7, 294,100, 298,97.8, 302,99.4, 306,100, 310,98.8, 314,99.6, 318,99.1, 322,100, 326,98.3, 330,99.5, 334,100, 338,99.0, 342,98.6, 345,96.0, 348,99.8, 352,100, 356,99.2, 360,98.0, 364,99.6, 368,100, 372,98.9, 375,76.8, 378,99.4, 382,99.9, 386,98.5, 390,99.2, 394,100, 398,98.8, 402,99.5, 406,99.9, 410,98.2, 414,99.4, 418,100, 422,98.8, 426,96.8, 430,99.6, 434,97.8, 438,99.2, 440,98.5, 443,95.0, 445,53.3, 448,97.2, 452,99.7, 456,99.0, 460,96.8, 464,98.6, 468,78.7, 470,99.5, 474,100, 478,98.8, 482,99.4, 486,99.9, 490,98.5, 494,99.2, 498,100, 504,98.8, 510,99.6, 516,99.1, 522,100, 524,97.0, 530,98.9, 536,99.5, 542,100, 548,98.7, 554,99.3, 560,99.8, 566,98.6, 572,99.4, 578,100, 584,98.8, 590,99.5, 596,97.6, 598,96.8, 600,94.8, 604,99.2, 610,98.5, 616,99.8, 622,98.9, 628,99.4, 634,96.7, 638,98.2, 642,99.6, 648,98.8, 654,100, 660,99.1, 666,98.4, 672,99.7, 678,98.9, 682,90.3, 686,99.3, 690,98.0, 696,99.6, 702,97.6, 708,98.8, 714,97.0, 720,99.4, 726,100, 732,98.5, 738,99.1, 744,96.6, 746,85.2, 750,99.5, 756,98.2, 762,97.0, 766,95.3, 770,96.5, 776,99.0, 782,98.4, 788,99.6, 790,88.5, 796,98.6, 802,99.8, 805,81.0, 808,97.0, 812,99.2, 816,94.6, 820,97.2, 824,93.8, 826,92.6, 830,96.0, 834,99.5, 838,97.5, 842,99.9, 848,95.2, 852,96.4, 856,92.9, 860,99.5, 864,95.0, 868,93.0, 872,97.8, 876,99.7, 880,95.6, 884,93.8, 888,96.2, 890,90.0, 894,95.6, 898,98.5, 902,93.9, 906,95.0, 910,99.0, 914,96.1, 916,83.5, 918,92.0, 922,97.2, 926,94.2, 930,95.8, 934,93.5, 938,99.2, 942,95.0, 946,92.8, 950,96.5, 954,94.8, 958,97.4, 962,93.2, 966,95.5, 970,92.4, 974,94.6, 978,68.5, 980,95.2, 984,93.5, 988,95.4, 992,98.9, 996,94.0, 1000,90.6, 1004,99.0, 1008,95.8, 1012,91.6, 1016,92.8, 1020,99.2, 1024,95.0, 1028,90.2, 1032,92.2, 1036,94.0, 1040,99.7, 1048,95.5, 1056,95.2, 1066,93.8, 1080,94.5, 1096,91.5,
  27,99.6, 33,99.9, 43,99.7, 53,99.8, 63,99.9, 78,99.9, 94,99.8, 118,99.3, 140,99.6, 156,98.6, 172,99.9, 188,99.1, 204,98.9, 220,99.9, 236,98.6, 252,99.5, 268,100, 284,99.2, 300,98.6, 316,100, 332,98.9, 350,99.5, 366,98.7, 384,99.8, 400,99.0, 412,99.9, 428,98.7, 450,98.4, 466,99.8, 484,98.6, 500,99.4, 514,98.3, 528,99.8, 546,99.4, 562,98.8, 580,99.2, 594,99.9, 612,99.4, 626,98.2, 646,99.6, 664,99.9, 676,98.6, 694,98.6, 710,99.8, 724,98.8, 740,99.8, 754,99.4, 772,99.7, 786,98.0, 800,99.4, 818,99.9, 840,99.1, 852,99.9, 868,99.5, 884,98.8, 900,99.9, 928,98.8, 948,99.0, 968,98.5, 990,99.5, 1010,98.6, 1030,99.2,
  31,100, 37,99.9, 47,100, 57,100, 70,100, 74,99.4, 82,100, 86,99.6, 90,99.9, 98,99.3, 102,100, 109,99.8, 122,99.6, 126,100, 136,99.4, 144,99.9, 148,98.9, 152,99.5, 160,100, 164,98.4, 168,99.6, 176,99.2, 180,100, 184,99.5, 192,99.8, 196,98.6, 200,99.9, 208,99.3, 212,100, 216,98.8, 228,99.6, 232,100, 240,99.2, 244,98.6, 248,99.9, 256,99.4, 260,98.8, 264,99.8, 272,99.4, 276,98.7, 280,99.9, 288,99.5, 292,98.8, 296,99.7, 304,99.0, 308,99.8, 312,98.4, 320,99.6, 324,99.1, 328,99.8, 336,98.5, 340,99.6, 344,100, 354,98.8, 358,99.9, 362,99.3, 370,99.7, 374,98.6, 380,99.2, 388,99.8, 392,98.9, 396,99.6, 404,98.6, 408,99.7, 416,99.1, 420,99.8, 424,98.4, 432,99.5, 436,96.8, 442,98.9, 446,99.6, 450,99.9, 452,96.6, 454,98.3, 458,99.5, 462,99.9, 470,97.0, 472,99.0, 476,98.5, 480,99.8, 488,99.2, 492,99.9, 496,98.8, 502,99.8, 508,99.1, 512,99.9, 518,98.6, 526,99.3, 532,99.9, 538,98.7, 544,99.5, 550,99.9, 556,98.9, 564,99.6, 568,98.4, 574,99.9, 582,99.2, 588,98.6, 592,99.8, 602,99.5, 606,98.6, 614,99.9, 618,98.9, 624,99.6, 632,99.0, 636,98.0, 640,99.8, 644,98.6, 652,99.2, 658,98.5, 662,99.7, 668,99.1, 674,99.9, 680,98.3, 684,99.5, 688,98.8, 692,99.9, 700,98.9, 704,99.4, 712,99.8, 716,98.6, 722,99.1, 728,99.7, 734,98.1, 742,99.4, 748,98.8, 752,99.9, 760,99.0, 768,98.2, 774,99.4, 780,99.9, 784,97.5, 792,99.1, 798,98.0, 810,98.7, 822,99.5, 836,98.4, 846,99.9, 858,97.0, 866,99.4, 874,98.4, 886,99.8, 896,97.8, 904,99.6, 912,98.9, 920,99.6, 932,98.9, 944,99.4, 956,98.6, 964,99.1, 976,98.6, 986,99.0, 998,98.8, 1018,99.1, 1044,99.8];

const FIX_RIGHT = [28,97.8, 36,92.4, 40,94.3, 46,96.0, 50,95.4, 56,97.8, 60,97.1, 66,50.8, 68,90.5, 70,96.9, 76,91.5, 82,95.6, 86,94.8, 92,99.0, 96,97.2, 100,95.3, 104,97.3, 108,96.4, 112,90.6, 116,97.0, 120,94.6, 124,90.9, 128,78.5, 130,99.6, 134,96.0, 138,98.8, 142,97.0, 146,86.3, 150,98.4, 154,97.5, 158,93.6, 162,98.9, 166,76.3, 168,95.5, 172,98.2, 176,97.4, 180,93.0, 184,87.4, 186,99.2, 190,96.2, 194,98.5, 196,92.8, 200,97.4, 204,99.0, 206,90.1, 210,97.8, 214,96.8, 218,93.2, 222,99.4, 225,76.6, 228,98.0, 232,96.5, 236,99.6, 240,97.5, 244,95.2, 248,98.8, 252,97.2, 256,99.3, 260,93.4, 264,98.2, 268,96.6, 270,92.2, 274,99.5, 278,97.8, 282,98.9, 285,85.2, 288,96.0, 292,99.0, 296,97.4, 300,98.6, 304,96.8, 308,99.4, 310,87.6, 314,97.6, 318,98.3, 322,96.2, 326,99.1, 330,88.7, 334,97.0, 338,98.4, 342,95.0, 346,96.5, 350,98.8, 354,92.0, 358,97.2, 362,95.8, 366,98.0, 370,89.6, 372,93.2, 375,55.8, 376,96.2, 380,89.0, 384,92.8, 388,98.9, 390,80.1, 394,95.6, 398,97.6, 402,85.8, 404,91.0, 408,99.0, 412,95.2, 416,97.8, 420,89.0, 424,94.8, 428,99.8, 430,83.3, 432,86.2, 436,96.6, 440,98.8, 444,94.9, 448,97.2, 452,95.5, 456,99.0, 460,93.0, 464,96.4, 468,82.5, 470,50.5, 472,98.8, 474,80.9, 476,95.0, 480,97.6, 484,94.2, 488,89.6, 492,96.8, 496,95.4, 500,99.2, 504,89.6, 506,94.0, 510,96.2, 514,92.5, 518,99.3, 522,95.6, 526,97.4, 530,93.8, 536,96.0, 542,92.6, 548,95.8, 554,90.6, 558,97.2, 562,94.0, 566,95.5, 570,90.2, 574,93.2, 578,96.8, 582,94.5, 586,86.5, 588,92.0, 590,84.3, 594,99.1, 598,93.8, 602,90.3, 606,95.2, 610,89.2, 614,98.2, 618,93.5, 622,95.8, 626,91.2, 630,94.6, 634,79.8, 638,92.6, 642,96.4, 646,90.5, 650,94.8, 654,92.0, 658,98.6, 662,93.0, 666,95.2, 670,97.8, 674,91.8, 678,94.5, 680,80.2, 684,92.4, 688,96.6, 692,90.2, 696,95.0, 700,87.7, 704,98.4, 708,93.4, 712,97.0, 716,91.0, 720,94.8, 724,88.0, 728,97.8, 732,92.2, 736,96.0, 740,89.4, 744,93.4, 748,97.2, 752,84.2, 756,91.5, 760,94.6, 764,90.0, 768,95.4, 772,88.8, 776,97.9, 780,92.2, 784,89.8, 788,95.6, 792,91.0, 796,96.6, 800,81.0, 804,95.5, 808,89.2, 812,92.6, 816,96.6, 820,89.0, 824,84.8, 828,93.5, 832,96.6, 836,91.5, 840,88.2, 844,96.2, 848,92.4, 852,97.0, 856,84.9, 858,89.5, 862,96.4, 866,90.8, 870,95.8, 874,88.6, 878,96.2, 882,92.0, 886,87.6, 890,75.8, 892,96.3, 896,90.4, 900,88.2, 904,96.4, 908,86.6, 912,89.6, 915,78.4, 918,96.4, 922,88.3, 926,90.8, 930,96.6, 934,86.8, 938,89.8, 942,96.2, 946,87.5, 950,92.5, 954,85.0, 958,96.3, 962,87.2, 966,83.3, 970,95.6, 974,74.1, 976,88.6, 980,90.2, 984,86.4, 988,95.6, 992,89.0, 996,91.2, 1000,96.0, 1004,87.9, 1008,83.2, 1012,95.6, 1016,90.4, 1020,87.0, 1024,90.8, 1028,95.4, 1032,93.5, 1040,89.1, 1050,88.3, 1065,89.6, 1080,82.6,
  40,97.0, 52,95.8, 62,97.5, 74,95.0, 80,97.6, 88,93.5, 98,96.8, 106,95.0, 114,98.3, 118,96.5, 126,97.6, 132,96.6, 136,97.9, 140,95.6, 144,99.2, 148,97.8, 152,96.8, 156,98.6, 160,97.2, 164,99.0, 170,96.9, 174,98.0, 178,95.2, 182,97.0, 188,98.3, 192,94.8, 198,96.6, 202,98.6, 208,97.2, 212,98.0, 216,95.6, 220,97.6, 226,98.4, 230,97.0, 234,98.8, 238,96.2, 242,98.6, 246,97.4, 250,99.0, 254,96.4, 258,98.6, 262,97.0, 266,99.2, 272,97.6, 276,98.5, 280,96.6, 284,98.8, 290,97.4, 294,98.0, 298,96.4, 302,98.9, 306,97.2, 312,98.0, 316,96.0, 320,98.6, 324,97.5, 328,96.3, 332,98.0, 336,96.9, 340,98.4, 344,95.6, 348,97.6, 352,95.0, 356,97.8, 360,96.4, 364,94.6, 368,97.0, 374,95.4, 378,93.8, 382,96.7, 386,93.0, 392,97.0, 396,95.8, 400,98.8, 406,94.2, 410,97.6, 414,96.3, 418,95.0, 422,98.6, 426,96.0, 434,95.3, 438,97.0, 442,95.8, 446,98.2, 450,96.0, 454,94.2, 458,97.6, 462,95.2, 466,94.0, 472,96.4, 478,92.6, 482,95.8, 486,97.0, 490,94.5, 494,93.0, 498,96.6, 502,94.6, 508,95.6, 512,93.6, 516,96.4, 520,94.4, 528,95.8, 534,97.6, 540,94.0, 546,96.8, 552,93.4, 560,95.6, 568,93.4, 576,95.0, 584,96.6, 592,94.8, 600,97.0, 608,93.6, 616,96.0, 624,92.6, 632,95.6, 640,93.8, 648,97.2, 656,94.2, 664,96.8, 672,93.4, 682,95.8, 690,93.0, 698,96.2, 706,94.6, 714,92.8, 722,96.6, 730,94.2, 738,97.4, 746,93.0, 754,95.6, 762,92.6, 770,96.2, 778,93.6, 786,91.6, 794,95.0, 802,92.4, 810,94.6, 818,91.2, 826,95.2, 834,90.2, 842,93.2, 850,90.8, 860,92.6, 868,89.8, 876,93.4, 884,90.0, 894,92.2, 902,89.4, 910,91.0, 920,89.8, 928,92.4, 936,88.6, 944,90.6, 952,88.0, 960,91.2, 968,87.4, 978,89.4, 986,87.8, 994,90.0, 1006,88.4, 1018,89.0, 1030,87.4, 1046,90.8, 1058,88.8, 1072,86.8];

const FONT = "'Liberation Sans', Arial, Helvetica, sans-serif";

function toPoints(flat: number[]) {
  const pts: { x: number; y: number }[] = [];
  for (let i = 0; i + 1 < flat.length; i += 2) pts.push({ x: flat[i], y: flat[i + 1] });
  return pts;
}

function makeFramePlugin(cfg: { legend: boolean; light: number[] }) {
  return {
    id: 'frame',
    beforeDatasetsDraw(chart: any) {
      const { ctx, chartArea: a, scales } = chart;
      const xs = scales.x;
      const ys = scales.y;
      ctx.save();
      ctx.lineWidth = 1;
      ctx.setLineDash([3, 3]);
      const xv = xs.ticks.map((t: any) => t.value);
      const yv = ys.ticks.map((t: any) => t.value);
      for (const v of xv) {
        const px = Math.round(xs.getPixelForValue(v)) + 0.5;
        if (px <= a.left + 1 || px >= a.right - 1) continue;
        ctx.strokeStyle = '#333';
        ctx.beginPath(); ctx.moveTo(px, a.top); ctx.lineTo(px, a.bottom); ctx.stroke();
      }
      for (const v of yv) {
        const py = Math.round(ys.getPixelForValue(v)) + 0.5;
        if (py <= a.top + 1 || py >= a.bottom - 1) continue;
        ctx.strokeStyle = cfg.light.indexOf(v) >= 0 ? '#b4b4b4' : '#333';
        ctx.beginPath(); ctx.moveTo(a.left, py); ctx.lineTo(a.right, py); ctx.stroke();
      }
      ctx.setLineDash([]);
      ctx.strokeStyle = '#555';
      ctx.lineWidth = 1;
      const tl = 5;
      for (const v of xv) {
        const px = Math.round(xs.getPixelForValue(v)) + 0.5;
        ctx.beginPath();
        ctx.moveTo(px, a.bottom); ctx.lineTo(px, a.bottom - tl);
        ctx.moveTo(px, a.top); ctx.lineTo(px, a.top + tl);
        ctx.stroke();
      }
      for (const v of yv) {
        const py = Math.round(ys.getPixelForValue(v)) + 0.5;
        ctx.beginPath();
        ctx.moveTo(a.left, py); ctx.lineTo(a.left + tl, py);
        ctx.moveTo(a.right, py); ctx.lineTo(a.right - tl, py);
        ctx.stroke();
      }
      ctx.strokeStyle = '#555';
      ctx.lineWidth = 1.3;
      ctx.strokeRect(a.left, a.top, a.right - a.left, a.bottom - a.top);
      ctx.restore();
    },
    afterDatasetsDraw(chart: any) {
      if (!cfg.legend) return;
      const { ctx, chartArea: a } = chart;
      const w = 103.3;
      const h = 90;
      const right = a.right - 4;
      const left = right - w;
      const top = a.top + 6.7;
      ctx.save();
      ctx.fillStyle = '#fff';
      ctx.fillRect(left, top, w, h);
      ctx.strokeStyle = '#555';
      ctx.lineWidth = 1.3;
      ctx.strokeRect(left, top, w, h);
      ctx.font = `21px ${FONT}`;
      ctx.textBaseline = 'middle';
      ctx.textAlign = 'left';
      chart.data.datasets.forEach((ds: any, i: number) => {
        const cy = top + 16.8 + i * 28;
        ctx.fillStyle = ds.backgroundColor;
        ctx.beginPath();
        ctx.arc(left + 28.3, cy, 2.2, 0, Math.PI * 2);
        ctx.fill();
        ctx.fillStyle = '#111';
        ctx.fillText(ds.label, left + 55, cy + 1);
      });
      ctx.restore();
    },
  };
}

type Series = { name: string; color: string; data: number[] };
type PanelProps = {
  left: number; top: number; width: number; height: number;
  axisW: number; padTop: number; padRight: number; xAxisH: number;
  yMin: number; yMax: number; yTicks: number[];
  yTitle: string; yTitlePad: number;
  xTitle?: string; xTitlePad?: number;
  series: Series[]; legend: boolean; light?: number[];
};

function Panel(p: PanelProps) {
  const ref = useRef<HTMLCanvasElement | null>(null);
  useEffect(() => {
    if (!ref.current) return;
    const n = p.series.length;
    const chart = new Chart(ref.current, {
      type: 'scatter',
      data: {
        datasets: p.series.map((s, i) => ({
          label: s.name,
          data: toPoints(s.data),
          backgroundColor: s.color,
          borderColor: s.color,
          pointRadius: 2.4,
          pointBorderWidth: 0,
          pointHoverRadius: 2.4,
          clip: false,
          order: n - i,
        })),
      },
      options: {
        animation: false,
        responsive: false,
        devicePixelRatio: 1,
        events: [],
        layout: { padding: { left: 0, top: p.padTop, right: p.padRight, bottom: 0 } },
        plugins: { legend: { display: false }, tooltip: { enabled: false } },
        scales: {
          x: {
            type: 'linear',
            min: 0,
            max: 1100,
            afterBuildTicks: (s: any) => { s.ticks = X_TICKS.map((v) => ({ value: v })); },
            afterFit: (s: any) => { s.height = p.xAxisH; },
            grid: { display: false, drawTicks: false },
            border: { display: false },
            ticks: {
              padding: 6,
              maxRotation: 0,
              autoSkip: false,
              color: '#111',
              font: { family: FONT, size: 21 },
              callback: (v: any) => String(v),
            },
            title: {
              display: !!p.xTitle,
              text: p.xTitle || '',
              color: '#111',
              font: { family: FONT, size: 21 },
              padding: { top: 0, bottom: p.xTitlePad || 0 },
            },
          },
          y: {
            type: 'linear',
            min: p.yMin,
            max: p.yMax,
            afterBuildTicks: (s: any) => { s.ticks = p.yTicks.map((v) => ({ value: v })); },
            afterFit: (s: any) => { s.width = p.axisW; },
            grid: { display: false, drawTicks: false },
            border: { display: false },
            ticks: {
              padding: 5,
              autoSkip: false,
              color: '#111',
              font: { family: FONT, size: 21 },
              callback: (v: any) => String(v),
            },
            title: {
              display: true,
              text: p.yTitle,
              color: '#111',
              font: { family: FONT, size: 22 },
              padding: { top: p.yTitlePad, bottom: 0 },
            },
          },
        },
      } as any,
      plugins: [makeFramePlugin({ legend: p.legend, light: p.light || [] })],
    } as any);
    return () => chart.destroy();
  }, []);
  return (
    <canvas
      ref={ref}
      width={p.width}
      height={p.height}
      style={{ position: 'absolute', left: p.left, top: p.top, width: p.width, height: p.height }}
    />
  );
}

export default function App() {
  const sdLeft: Series[] = [
    { name: SERIES_NAMES[0], color: SERIES_COLORS[0], data: SD_LEFT_EW },
    { name: SERIES_NAMES[1], color: SERIES_COLORS[1], data: SD_LEFT_NS },
    { name: SERIES_NAMES[2], color: SERIES_COLORS[2], data: SD_LEFT_UD },
  ];
  const sdRight: Series[] = [
    { name: SERIES_NAMES[0], color: SERIES_COLORS[0], data: SD_RIGHT_EW },
    { name: SERIES_NAMES[1], color: SERIES_COLORS[1], data: SD_RIGHT_NS },
    { name: SERIES_NAMES[2], color: SERIES_COLORS[2], data: SD_RIGHT_UD },
  ];
  return (
    <div style={{ position: 'absolute', left: 0, top: 0, width: 1111, height: 813, overflow: 'hidden', background: '#fff' }}>
      <Panel left={0} top={0} width={560} height={395} axisW={77.5} padTop={20} padRight={30} xAxisH={37}
        yMin={0} yMax={10} yTicks={SD_TICKS} yTitle="Standard Deviation (cm)" yTitlePad={17.8}
        series={sdLeft} legend={true} />
      <Panel left={588} top={0} width={560} height={397} axisW={77} padTop={22.3} padRight={30.4} xAxisH={36.3}
        yMin={0} yMax={10} yTicks={SD_TICKS} yTitle="Standard Deviation (cm)" yTitlePad={16.8}
        series={sdRight} legend={true} />
      <Panel left={0} top={400} width={560} height={413} axisW={77.5} padTop={19} padRight={30} xAxisH={56}
        yMin={50} yMax={100} yTicks={FIX_TICKS} yTitle="Fixing Ratio (%)" yTitlePad={7.8}
        xTitle="Baseline Length (km)" xTitlePad={1.4}
        series={[{ name: 'Fixing Ratio', color: FIX_COLOR, data: FIX_LEFT }]} legend={false} />
      <Panel left={588} top={400} width={560} height={413} axisW={77} padTop={18.7} padRight={30.4} xAxisH={55.3}
        yMin={50} yMax={100} yTicks={FIX_TICKS} yTitle="Fixing Ratio (%)" yTitlePad={4.3}
        xTitle="Baseline Length (km)" xTitlePad={1.4}
        series={[{ name: 'Fixing Ratio', color: FIX_COLOR, data: FIX_RIGHT }]} legend={false} light={[70, 90]} />
    </div>
  );
}
